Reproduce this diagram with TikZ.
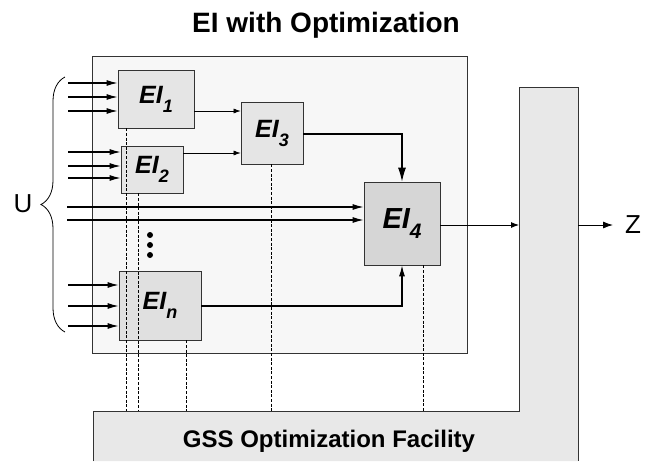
\documentclass[tikz,border=0pt]{standalone}
\usepackage{graphicx}
\usepackage{fontspec}
\setmainfont{Liberation Sans}
\usetikzlibrary{arrows.meta,positioning,decorations.pathreplacing}

\newcommand{\ei}[1]{EI\raisebox{-0.36em}{\scalebox{0.72}{#1}}}

\begin{document}
\begin{tikzpicture}[x=1pt,y=-1pt,
    block/.style={draw=black!80,fill=black!10,line width=0.8pt,inner sep=0pt,
      font=\bfseries\itshape\fontsize{25}{25}\selectfont},
    feed/.style={-{Latex[length=11pt,width=6pt]},line width=1.1pt},
    link/.style={-{Latex[length=7pt,width=5pt]},line width=0.6pt},
    probe/.style={line width=1pt,dash pattern=on 3pt off 1.6pt}]
  \useasboundingbox (0,0) rectangle (655,461);

  \node[anchor=base,font=\bfseries\fontsize{28}{28}\selectfont] (title) at (326,32) {EI with Optimization};

  % optimizer: column on the right joined to the bar below
  \filldraw[fill=black!9,draw=black!80,line width=0.8pt]
    (93,461) -- (93,411) -- (519,411) -- (519,87) -- (578,87) -- (578,461);
  \node[anchor=base,font=\bfseries\fontsize{24}{24}\selectfont] (gss) at (329,447) {GSS Optimization Facility};
  \coordinate (bar) at (0,411);
  \coordinate (zin) at (519,225);
  \coordinate (zout) at (578,225);

  % panel holding the EI blocks
  \node[draw=black!80,fill=black!3,line width=0.8pt,minimum width=375pt,minimum height=297pt] (panel) at (279.5,204.5) {};

  \node[block,minimum width=76pt,minimum height=58pt] (ei1) at (156,99) {\ei{1}};
  \node[block,minimum width=62pt,minimum height=47pt] (ei2) at (152,169.5) {\ei{2}};
  \node[block,minimum width=62pt,minimum height=62pt] (ei3) at (272,133) {\ei{3}};
  \node[block,fill=black!12,minimum width=82pt,minimum height=69pt] (ein) at (160,305.5) {\ei{n}};
  \node[block,fill=black!16,minimum width=76pt,minimum height=83pt,
        font=\bfseries\itshape\fontsize{29}{29}\selectfont] (ei4) at (402,223.5) {\ei{4}};

  % inputs
  \foreach \y [count=\i] in {83,97,111} {
    \coordinate (ua\i) at (68,\y);
    \draw[feed] (ua\i) -- (ua\i -| ei1.west);
  }
  \foreach \y [count=\i] in {152,166,178} {
    \coordinate (ub\i) at (68,\y);
    \draw[feed] (ub\i) -- (ub\i -| ei2.west);
  }
  \foreach \y [count=\i] in {285,306,326} {
    \coordinate (uc\i) at (68,\y);
    \draw[feed] (uc\i) -- (uc\i -| ein.west);
  }
  \foreach \y [count=\i] in {207,220} {
    \coordinate (ud\i) at (67,\y);
    \draw[feed] (ud\i) -- (ud\i -| ei4.west);
  }

  \draw[decorate,decoration={brace,amplitude=24pt},line width=0.8pt] (65,332) -- (65,77);
  \node[font=\fontsize{26}{26}\selectfont] (U) at (23,204) {U};

  % vertical dots
  \foreach \y in {235,245,255}
    \fill (150,\y) circle (3pt);

  % connections between blocks
  \draw[link] (ei1.east |- 0,111) -- (ei3.west |- 0,111);
  \draw[link] (ei2.east |- 0,153) -- (ei3.west |- 0,153);
  \draw[feed,-{Latex[length=14pt,width=8pt]}] (ei3.east |- 0,134) -| (ei4.north);
  \draw[feed] (ein.east |- 0,306) -| (ei4.south);
  \draw[link,line width=0.9pt,-{Latex[length=8pt,width=6pt]}] (ei4.east |- zin) -- (zin);

  \node[anchor=west,inner xsep=12pt,inner ysep=0pt,font=\fontsize{26}{26}\selectfont] (Z) at (613,225) {Z};
  \draw[link,line width=0.9pt,-{Latex[length=10pt,width=7pt]}] (zout) -- (Z.west);

  % dashed lines down to the optimizer
  \foreach \b/\x in {ei1/126,ei2/138,ein/186,ei3/271,ei4/423}
    \draw[probe] (\b.south -| \x,0) -- (\x,0 |- bar);
\end{tikzpicture}
\end{document}
